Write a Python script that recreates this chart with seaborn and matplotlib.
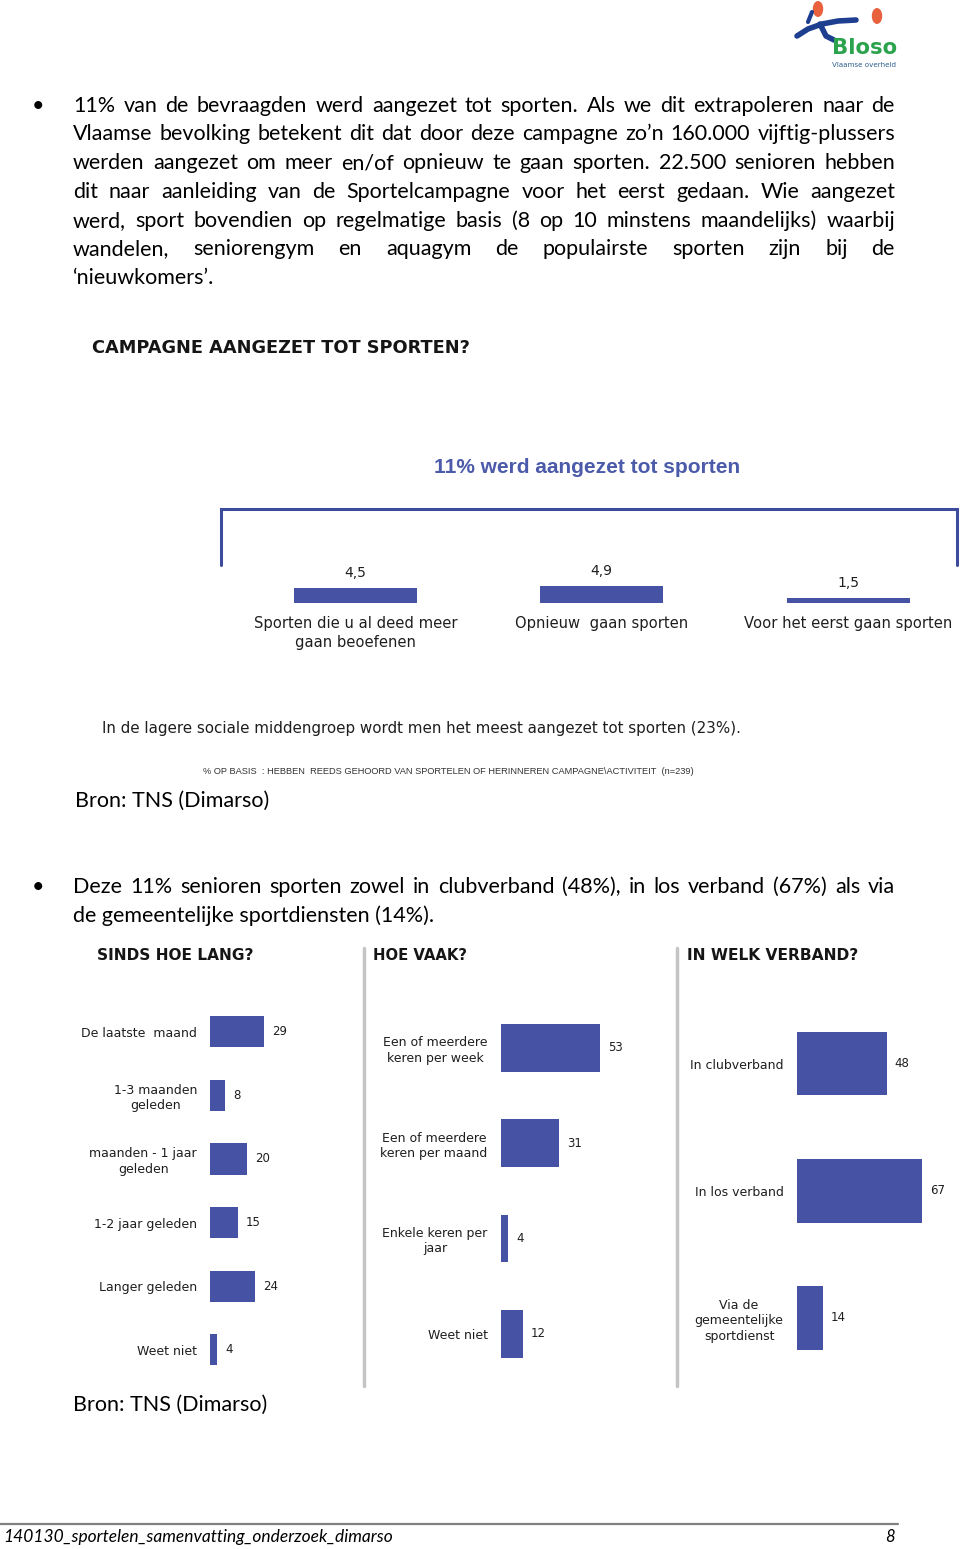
import matplotlib
matplotlib.use("Agg")
import matplotlib.pyplot as plt
import seaborn as sns
import pandas as pd
from matplotlib.lines import Line2D
from matplotlib.patches import Circle

W, H = 960, 1549

# ---------------- data ----------------
campaign_categories = ["Sporten die u al deed meer\ngaan beoefenen",
                       "Opnieuw  gaan sporten",
                       "Voor het eerst gaan sporten"]
campaign_values = [4.5, 4.9, 1.5]
campaign_value_labels = ["4,5", "4,9", "1,5"]

since_categories = ["De laatste  maand", "1-3 maanden\ngeleden",
                    "maanden - 1 jaar\ngeleden", "1-2 jaar geleden",
                    "Langer geleden", "Weet niet"]
since_values = [29, 8, 20, 15, 24, 4]

frequency_categories = ["Een of meerdere\nkeren per week",
                        "Een of meerdere\nkeren per maand",
                        "Enkele keren per\njaar", "Weet niet"]
frequency_values = [53, 31, 4, 12]

context_categories = ["In clubverband", "In los verband",
                      "Via de\ngemeentelijke\nsportdienst"]
context_values = [48, 67, 14]

paragraph1 = [
    "11% van de bevraagden werd aangezet tot sporten. Als we dit extrapoleren naar de",
    "Vlaamse bevolking betekent dit dat door deze campagne zo’n 160.000 vijftig-plussers",
    "werden aangezet om meer en/of opnieuw te gaan sporten. 22.500 senioren hebben",
    "dit naar aanleiding van de Sportelcampagne voor het eerst gedaan. Wie aangezet",
    "werd, sport bovendien op regelmatige basis (8 op 10 minstens maandelijks) waarbij",
    "wandelen, seniorengym en aquagym de populairste sporten zijn bij de",
    "‘nieuwkomers’.",
]
paragraph2 = [
    "Deze 11% senioren sporten zowel in clubverband (48%), in los verband (67%) als via",
    "de gemeentelijke sportdiensten (14%).",
]
chart_title = "CAMPAGNE AANGEZET TOT SPORTEN?"
chart_subtitle = "11% werd aangezet tot sporten"
chart_note = "In de lagere sociale middengroep wordt men het meest aangezet tot sporten (23%)."
chart_base = "% OP BASIS  : HEBBEN  REEDS GEHOORD VAN SPORTELEN OF HERINNEREN CAMPAGNE\\ACTIVITEIT  (n=239)"
source = "Bron: TNS (Dimarso)"
panel_titles = ["SINDS HOE LANG?", "HOE VAAK?", "IN WELK VERBAND?"]
footer_text = "140130_sportelen_samenvatting_onderzoek_dimarso"
page_number = "8"

# ---------------- style ----------------
sns.set_theme(style="white")
plt.rcParams["font.family"] = ["DejaVu Sans"]
BAR = "#4652A3"
BODY = ["Lato", "DejaVu Sans"]
DARK = "#1E1E1E"

fig = plt.figure(figsize=(W / 100, H / 100), dpi=100)
fig.patch.set_facecolor("white")
renderer = fig.canvas.get_renderer()


def fx(x):
    return x / W


def fy(y):
    return 1 - y / H


def add_ax(x0, y0, x1, y1):
    ax = fig.add_axes([fx(x0), fy(y1), (x1 - x0) / W, (y1 - y0) / H])
    ax.set_facecolor("none")
    return ax


def put(x, yb, s, size, fit=None, ha="left", **kw):
    t = fig.text(fx(x), fy(yb), s, fontsize=size, ha=ha, va="baseline", **kw)
    if fit is not None:
        w = t.get_window_extent(renderer).width
        t.set_fontsize(size * fit / w)
    return t


def justify(line, x0, x1, yb, size, family):
    words = line.split(" ")
    texts = [fig.text(0, fy(yb), w, fontsize=size, family=family,
                      va="baseline", color="black") for w in words]
    widths = [t.get_window_extent(renderer).width for t in texts]
    gap = (x1 - x0 - sum(widths)) / max(len(words) - 1, 1)
    x = x0
    for t, w in zip(texts, widths):
        t.set_x(fx(x))
        x += w + gap


# body size chosen so that "Bron: TNS (Dimarso)" spans the same width as in the page
probe = fig.text(0, 0, source, fontsize=13.4, family=BODY)
BODY_FS = 13.4 * 194 / probe.get_window_extent(renderer).width
probe.remove()

# ---------------- logo ----------------
fig.add_artist(Line2D([fx(797), fx(808), fx(822), fx(838), fx(856)],
                      [fy(36), fy(29), fy(24), fy(21), fy(20)],
                      color="#1E3F8F", lw=4, solid_capstyle="round"))
fig.add_artist(Line2D([fx(820), fx(826), fx(834)],
                      [fy(24), fy(36), fy(40)],
                      color="#1E3F8F", lw=4, solid_capstyle="round"))
fig.add_artist(Line2D([fx(808), fx(812)], [fy(22), fy(12)],
                      color="#1E3F8F", lw=3, solid_capstyle="round"))
for cx, cy in [(818, 9), (877, 16)]:
    fig.add_artist(Circle((fx(cx), fy(cy)), 4.5 / W, color="#E8603C",
                          transform=fig.transFigure))
put(832, 54, "Bloso", 15.5, fit=65, weight="bold", color="#2BA24C")
put(832, 67, "Vlaamse overheid", 5, fit=64, color="#2F5F8F")

# ---------------- paragraph 1 ----------------
put(37.5, 111.7, "•", BODY_FS, ha="center", family=BODY, color="black")
for i, line in enumerate(paragraph1):
    yb = 111.7 + 28.75 * i
    if i < len(paragraph1) - 1:
        justify(line, 73, 895, yb, BODY_FS, BODY)
    else:
        put(73, yb, line, BODY_FS, family=BODY, color="black")

# ---------------- top chart ----------------
put(92, 353.3, chart_title, 10.5, fit=383, weight="bold", color="#151515")
put(587.5, 473, chart_subtitle, 12, fit=305, ha="center", weight="bold",
    color="#4B5BAA", family=["Liberation Sans Narrow", "Liberation Sans"])
fig.add_artist(Line2D([fx(221), fx(221), fx(957), fx(957)],
                      [fy(565), fy(508.5), fy(508.5), fy(565)],
                      color="#3D4B9C", lw=2.2, solid_joinstyle="miter"))

ax = add_ax(232, 540, 960, 603.3)
df_c = pd.DataFrame({"cat": campaign_categories, "val": campaign_values})
sns.barplot(data=df_c, x="cat", y="val", color=BAR, saturation=1, width=0.5,
            linewidth=0, errorbar=None, ax=ax)
ax.set_xlim(-0.5, -0.5 + (960 - 232) / 246.5)
ax.set_ylim(0, 63.3 / 3.5)
ax.set_yticks([])
ax.set_xlabel("")
ax.set_ylabel("")
sns.despine(ax=ax, left=True, bottom=True)
ax.tick_params(axis="x", length=0, pad=9, labelsize=10.6, labelcolor=DARK)
for t in ax.get_xticklabels():
    t.set_linespacing(1.35)
for i, (v, lab) in enumerate(zip(campaign_values, campaign_value_labels)):
    ax.annotate(lab, (i, v), xytext=(0, 11), textcoords="offset pixels",
                ha="center", va="baseline", fontsize=10, color=DARK)

put(102, 733, chart_note, 10, fit=638, color=DARK)
put(203, 773.5, chart_base, 6, fit=495, color="#333333",
    family=["Liberation Sans Narrow", "Liberation Sans"])
put(75, 806.5, source, BODY_FS, family=BODY, color="black")

# ---------------- paragraph 2 ----------------
put(37.5, 893.3, "•", BODY_FS, ha="center", family=BODY, color="black")
justify(paragraph2[0], 73, 895, 893.3, BODY_FS, BODY)
put(73, 922.3, paragraph2[1], BODY_FS, family=BODY, color="black")

# ---------------- bottom panels ----------------
put(97, 960, panel_titles[0], 10.5, fit=158, weight="bold", color="#151515")
put(373, 960, panel_titles[1], 10.5, fit=95, weight="bold", color="#151515")
put(687, 960, panel_titles[2], 10.5, fit=173, weight="bold", color="#151515")
for xs in (363.5, 676.5):
    fig.add_artist(Line2D([fx(xs), fx(xs)], [fy(948), fy(1386)],
                          color="#C4C4C4", lw=2.5))


def hpanel(cats, vals, x0, scale, xmax, thickness):
    ax = add_ax(x0, 1000, x0 + xmax * scale, 1381.5)
    df = pd.DataFrame({"cat": cats, "val": vals})
    sns.barplot(data=df, x="val", y="cat", orient="h", color=BAR,
                saturation=1, width=thickness, linewidth=0, errorbar=None, ax=ax)
    ax.set_xlim(0, xmax)
    ax.set_ylim(len(cats) - 0.5, -0.5)
    ax.set_xticks([])
    ax.set_xlabel("")
    ax.set_ylabel("")
    sns.despine(ax=ax, left=True, bottom=True)
    ax.tick_params(axis="y", length=0, pad=13 / 1.389, labelsize=9.0,
                   labelcolor=DARK)
    for t in ax.get_yticklabels():
        t.set_multialignment("center")
        t.set_linespacing(1.25)
    for i, v in enumerate(vals):
        ax.annotate(str(v), (v, i), xytext=(8, 0), textcoords="offset pixels",
                    ha="left", va="center", fontsize=8.5, color=DARK)
    return ax


hpanel(since_categories, since_values, 210, 1.86, 75, 0.49)
hpanel(frequency_categories, frequency_values, 500.5, 1.88, 80, 0.5)
hpanel(context_categories, context_values, 796.5, 1.88, 80, 0.5)

put(73, 1411, source, BODY_FS, family=BODY, color="black")

# ---------------- footer ----------------
fig.add_artist(Line2D([0, fx(898)], [fy(1524), fy(1524)], color="#808080", lw=1.6))
put(3, 1542, footer_text, 12, fit=387, style="italic", family=BODY, color="black")
put(895, 1542, page_number, 12, ha="right", style="italic", family=BODY, color="black")

fig.savefig("out.png", dpi=100, facecolor="white")
